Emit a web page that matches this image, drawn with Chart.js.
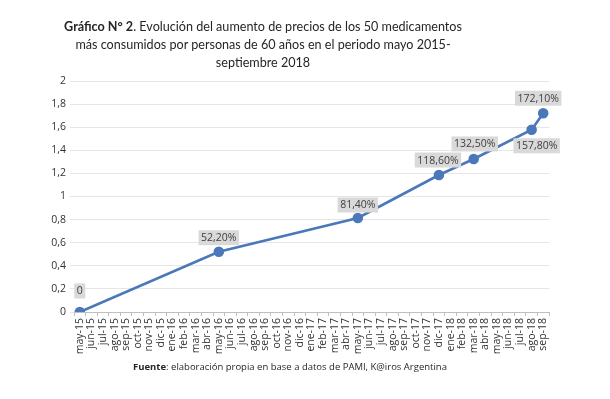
<!DOCTYPE html>
<html>
<head>
<meta charset="utf-8">
<script src="https://cdn.jsdelivr.net/npm/chart.js@4"></script>
<style>
  body { margin: 0; background: #fff; }
  #wrap { position: relative; width: 610px; height: 399px; }
  #title {
    position: absolute; left: 0; top: 18px; width: 526px;
    text-align: center; font-family: "Lato", sans-serif;
    font-size: 12.6px; line-height: 18px; color: #262626;
  }
  #source {
    position: absolute; left: 0; top: 360px; width: 580px;
    text-align: center; font-family: "Open Sans", sans-serif;
    font-size: 9.5px; color: #262626;
  }
  canvas { position: absolute; left: 0; top: 0; }
</style>
</head>
<body>
<div id="wrap">
  <canvas id="chart" width="610" height="399"></canvas>
  <div id="title"><b>Gráfico N° 2</b>. Evolución del aumento de precios de los 50 medicamentos<br>más consumidos por personas de 60 años en el periodo mayo 2015-<br>septiembre 2018</div>
  <div id="source"><b>Fuente</b>: elaboración propia en base a datos de PAMI, K@iros Argentina</div>
</div>
<script>
// months shown on the x axis
const months = [
  'may-15', 'jun-15', 'jul-15', 'ago-15', 'sep-15', 'oct-15', 'nov-15', 'dic-15',
  'ene-16', 'feb-16', 'mar-16', 'abr-16', 'may-16', 'jun-16', 'jul-16', 'ago-16',
  'sep-16', 'oct-16', 'nov-16', 'dic-16', 'ene-17', 'feb-17', 'mar-17', 'abr-17',
  'may-17', 'jun-17', 'jul-17', 'ago-17', 'sep-17', 'oct-17', 'nov-17', 'dic-17',
  'ene-18', 'feb-18', 'mar-18', 'abr-18', 'may-18', 'jun-18', 'jul-18', 'ago-18',
  'sep-18'
];

// measured points
const pointMonths = ['may-15', 'may-16', 'may-17', 'dic-17', 'mar-18', 'ago-18', 'sep-18'];
const increase = [0, 0.522, 0.814, 1.186, 1.325, 1.578, 1.721];
const pointLabels = ['0', '52,20%', '81,40%', '118,60%', '132,50%', '157,80%', '172,10%'];

const yTicks = [0, 0.2, 0.4, 0.6, 0.8, 1, 1.2, 1.4, 1.6, 1.8, 2];

// gray boxes with the value above (or below) each point
const boxLabels = {
  id: 'boxLabels',
  afterDatasetsDraw(chart, args, opts) {
    const ctx = chart.ctx;
    const meta = chart.getDatasetMeta(0);
    ctx.save();
    ctx.font = '10.5px "Open Sans", sans-serif';
    ctx.textAlign = 'center';
    ctx.textBaseline = 'middle';
    meta.data.forEach((pt, i) => {
      const text = pointLabels[i];
      const off = opts.offsets[i];
      const w = ctx.measureText(text).width + 5;
      const h = 15;
      const cx = pt.x + off[0];
      const cy = pt.y + off[1];
      ctx.fillStyle = '#d9d9d9';
      ctx.fillRect(cx - w / 2, cy - h / 2, w, h);
      ctx.fillStyle = '#404040';
      ctx.fillText(text, cx, cy + 0.5);
    });
    ctx.restore();
  }
};

new Chart(document.getElementById('chart'), {
  type: 'line',
  data: {
    labels: months,
    datasets: [{
      data: pointMonths.map((m, i) => ({ x: m, y: increase[i] })),
      borderColor: '#4a78b9',
      backgroundColor: '#4a78b9',
      borderWidth: 2.6,
      pointRadius: 4,
      pointHoverRadius: 4,
      tension: 0
    }]
  },
  options: {
    responsive: false,
    animation: false,
    layout: { padding: { left: 0, right: 61, top: 81, bottom: 0 } },
    plugins: {
      legend: { display: false },
      tooltip: { enabled: false },
      boxLabels: {
        offsets: [[0, -21], [0, -14], [0, -13], [-1, -15], [1, -15], [5, 16], [-5, -15]]
      }
    },
    scales: {
      x: {
        type: 'category',
        offset: true,
        grid: { offset: true, drawOnChartArea: false, drawTicks: true, tickLength: 4, color: '#bfbfbf' },
        border: { display: true, color: '#bfbfbf' },
        ticks: {
          autoSkip: false, minRotation: 90, maxRotation: 90, padding: 2,
          color: '#333333', font: { family: 'Open Sans', size: 10.5 }
        },
        afterFit(scale) { scale.height = 87; }
      },
      y: {
        min: 0, max: 2,
        afterBuildTicks(scale) { scale.ticks = yTicks.map(v => ({ value: v })); },
        grid: { color: '#e6e6e6', drawTicks: true, tickLength: 4 },
        border: { display: false },
        ticks: {
          padding: 4, color: '#333333', font: { family: 'Open Sans', size: 10.5 },
          callback: v => String(Math.round(v * 10) / 10).replace('.', ',')
        },
        afterFit(scale) { scale.width = 74; }
      }
    }
  },
  plugins: [boxLabels]
});
</script>
</body>
</html>
